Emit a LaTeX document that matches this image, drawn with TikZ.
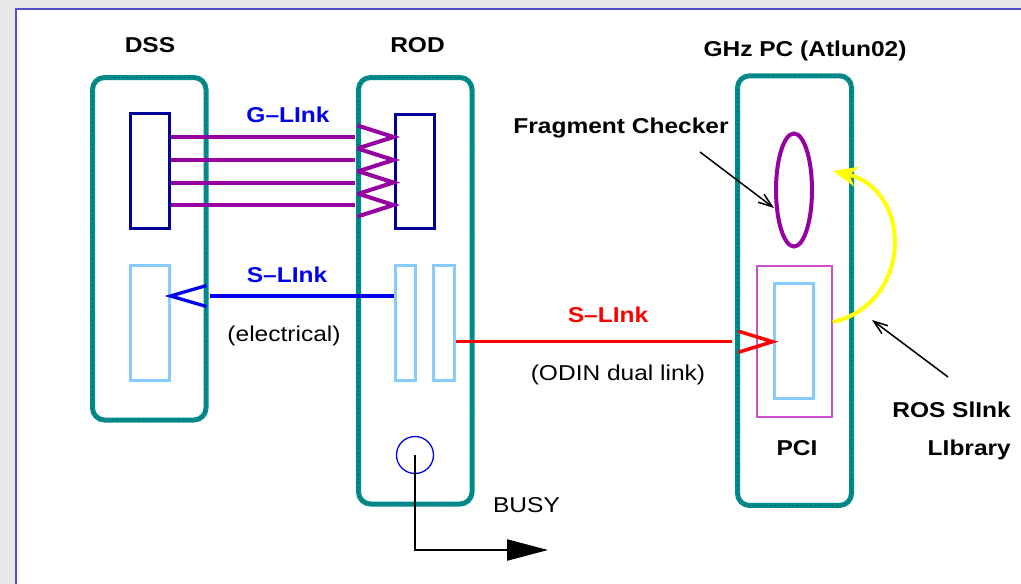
\documentclass[tikz,border=0pt]{standalone}
\usepackage{fontspec}
\setmainfont{Liberation Sans}[FakeStretch=1.14]
\usetikzlibrary{arrows.meta,calc,shapes.geometric}
\definecolor{teal0}{RGB}{0,140,140}
\definecolor{navy0}{RGB}{0,0,150}
\definecolor{lblue}{RGB}{136,204,255}
\definecolor{purp}{RGB}{150,0,160}
\definecolor{pcimag}{RGB}{204,80,204}
\definecolor{linkblue}{RGB}{0,0,240}
\definecolor{linkred}{RGB}{255,0,0}
\definecolor{yel}{RGB}{255,255,0}
\definecolor{bggray}{RGB}{232,232,232}
\definecolor{frameblue}{RGB}{80,80,200}
\begin{document}
\begin{tikzpicture}[x=1pt,y=-1pt,
  unit/.style={draw=teal0, line width=5pt, rounded corners=12pt, inner sep=0pt,
    postaction={draw=black, draw opacity=0.55, line width=0.8pt, dash pattern=on 0.8pt off 3.6pt}},
  navyrect/.style={draw=navy0, line width=3pt, inner sep=0pt, minimum width=39pt},
  lbrect/.style={draw=lblue, line width=3pt, inner sep=0pt},
  lbl/.style={font=\fontsize{21.5}{26}\selectfont\bfseries, inner sep=0pt, anchor=base},
  plain/.style={font=\fontsize{21.5}{26}\selectfont, inner sep=0pt, anchor=base},
  glink/.style={draw=purp, line width=4pt},
  blink/.style={draw=linkblue, line width=3.3pt},
  rlink/.style={draw=linkred, line width=3.5pt},
  pointer/.style={draw=black, line width=1.5pt, -{Straight Barb[length=14pt,width=10pt]}},
]
\useasboundingbox (0,0) rectangle (1021,584);
\fill[white] (0,0) rectangle (1021,584);
\fill[bggray] (0,0) rectangle (1021,8);
\fill[bggray] (0,0) rectangle (15,584);
\draw[frameblue, line width=2pt] (16,584) -- (16,9) -- (1021,9);

% units
\node[unit, minimum width=113.5pt, minimum height=342.5pt] (dss) at (149.25,248.75) {};
\node[unit, minimum width=113.5pt, minimum height=426.5pt] (rod) at (415.25,290.75) {};
\node[unit, minimum width=114pt, minimum height=429.7pt] (pc) at (794.5,290.6) {};

\node[lbl] (dsst) at (150,52) {DSS};
\node[lbl] (rodt) at (417.5,52) {ROD};
\node[lbl] (pct) at (805,56.5) {GHz PC (Atlun02)};

% inner rects
\node[navyrect, minimum height=115pt] (dssn) at (149.5,170.5) {};
\node[navyrect, minimum height=114pt] (rodn) at (414.5,171) {};
\node[lbrect, minimum width=39pt, minimum height=115pt] (dsslb) at (149.5,322.5) {};
\node[lbrect, minimum width=20pt, minimum height=115pt] (rodlb1) at (405,322.5) {};
\node[lbrect, minimum width=21pt, minimum height=115pt] (rodlb2) at (443.5,322.5) {};
\node[draw=pcimag, line width=1.3pt, inner sep=0pt, minimum width=75pt, minimum height=151pt] (pci) at (794.5,341.5) {};
\node[lbrect, minimum width=39pt, minimum height=115pt] (pclb) at (793.5,340.5) {};
\node[ellipse, draw=purp, line width=4pt, inner sep=0pt, minimum width=36pt, minimum height=113pt] (frag) at (794,190) {};
\node[circle, draw=linkblue, line width=1.3pt, inner sep=0pt, minimum size=37pt] (busyc) at (415,455) {};

% G-Link
\foreach \i/\yy in {1/137,2/160,3/182.5,4/205}{
  \coordinate (gs\i) at (dssn.east |- 0,\yy);
  \coordinate (ge\i) at (rodn.west |- 0,\yy);
  \draw[glink] (gs\i) -- ($(ge\i)+(-39,0)$);
  \draw[glink, line join=miter] ($(ge\i)+(-36,-11.5)$) -- (ge\i) -- ($(ge\i)+(-36,11.5)$);
}
\node[lbl, text=linkblue] (glt) at (288,122) {G--LInk};

% S-Link electrical
\coordinate (ss) at (rodlb1.west |- 0,296);
\coordinate (se) at (dsslb.east |- 0,296);
\draw[blink] (ss) -- ($(se)+(39,0)$);
\draw[blink, line join=miter] ($(se)+(36,-10.5)$) -- (se) -- ($(se)+(36,10.5)$);
\node[lbl, text=linkblue] (slt) at (287,282) {S--LInk};
\node[plain] (elt) at (284,341.5) {(electrical)};

% S-Link ODIN
\coordinate (rs) at (rodlb2.east |- 0,341.7);
\coordinate (re) at (pclb.west |- 0,341.7);
\draw[rlink] (rs) -- ($(re)+(-41,0)$);
\draw[rlink, line join=miter] ($(re)+(-34,-10.5)$) -- (re) -- ($(re)+(-34,10.5)$);
\node[lbl, text=linkred] (rlt) at (608,322) {S--LInk};
\node[plain] (odt) at (618,380) {(ODIN dual link)};

% PC labels
\node[lbl] (pcit) at (797,455) {PCI};
\node[lbl] (fct) at (621,133) {Fragment Checker};
\coordinate (fcs) at (700,152);
\draw[pointer] (fcs) -- (frag.west |- 0,208);
\node[lbl, anchor=base east] (rost) at (1011,417) {ROS SlInk};
\node[lbl, anchor=base east] (libt) at (1011,455) {LIbrary};
\coordinate (ross) at (948,377);
\coordinate (rose) at (872,320);
\draw[pointer] (ross) -- (rose);

% yellow arc
\coordinate (ys) at (pci.east |- 0,322);
\coordinate (ye) at (833,171);
\draw[yel, line width=4pt, -{Stealth[length=24pt,width=20pt,inset=7pt]}]
  (ys) .. controls (912.8,303.9) and (912.8,190.1) .. (ye);

% BUSY
\coordinate (busyend) at (548,550);
\draw[black, line width=2.2pt, -{Triangle[length=41pt,width=21pt]}] (busyc.center) |- (busyend);
\node[plain] (busyt) at (526.5,512) {BUSY};
\end{tikzpicture}
\end{document}
